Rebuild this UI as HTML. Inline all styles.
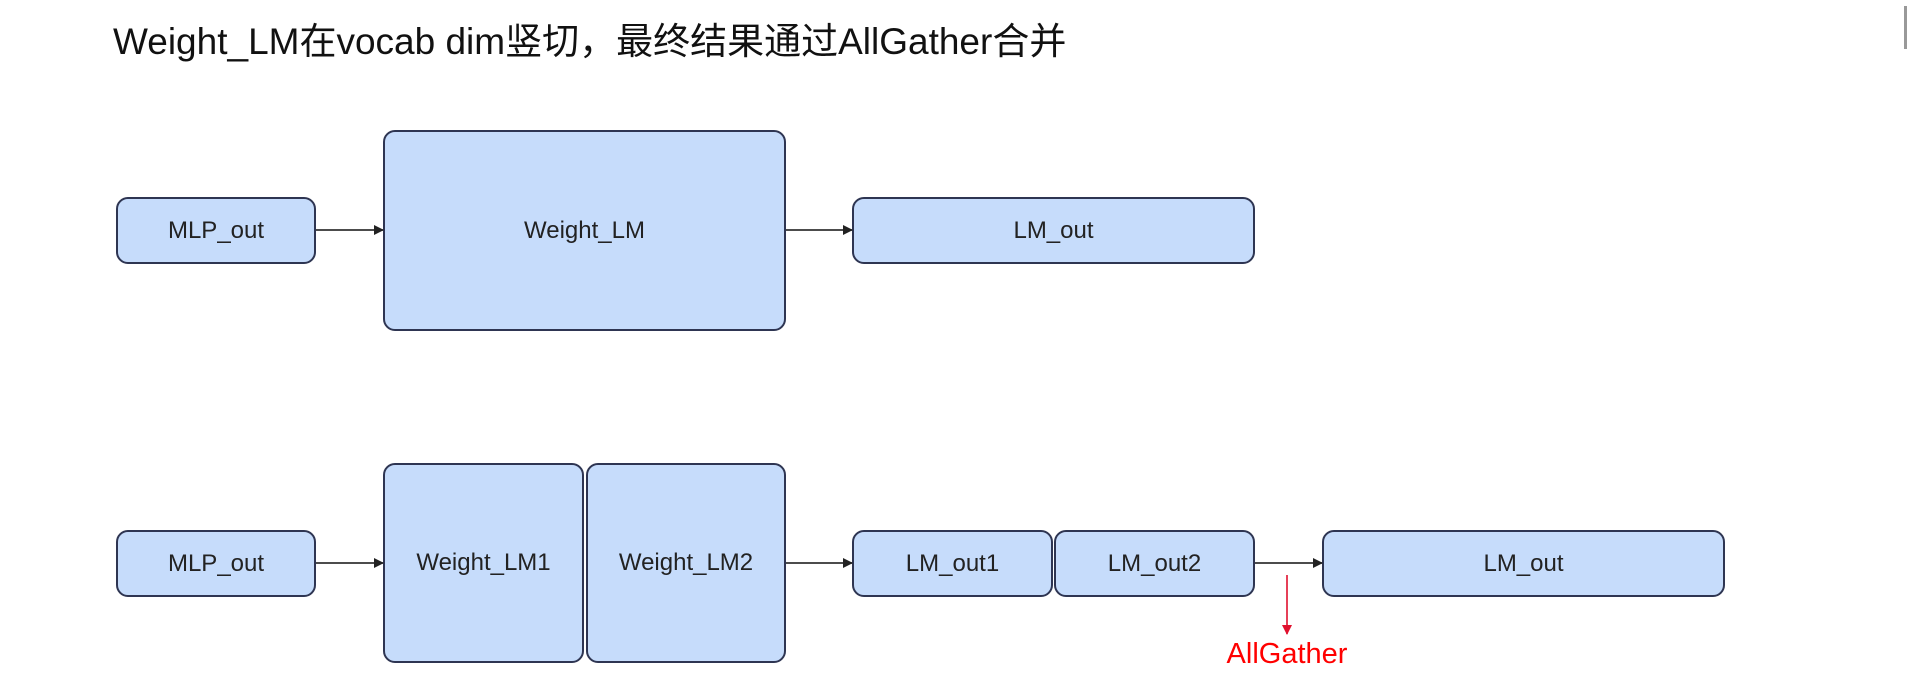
<!DOCTYPE html>
<html><head><meta charset="utf-8"><style>
body{margin:0;width:1909px;height:682px;background:#fff;overflow:hidden;position:relative;font-family:"Liberation Sans","Noto Sans CJK SC",sans-serif}
.t{position:absolute;left:113px;top:11px;font-size:37px;color:#111;white-space:nowrap;font-family:"Liberation Sans","Noto Sans CJK SC",sans-serif}
.b{position:absolute;box-sizing:border-box;background:#c6dcfb;border:2px solid #2e3552;border-radius:12px;display:flex;align-items:center;justify-content:center;font-size:24px;color:#222}
</style></head><body>
<div class="t">Weight_LM在vocab dim竖切，最终结果通过AllGather合并</div>
<div style="position:absolute;left:1904px;top:6px;width:3px;height:43px;background:#999"></div>
<div class="b" style="left:116px;top:197px;width:200px;height:67px">MLP_out</div>
<div class="b" style="left:383px;top:130px;width:403px;height:201px">Weight_LM</div>
<div class="b" style="left:852px;top:197px;width:403px;height:67px">LM_out</div>
<div class="b" style="left:116px;top:530px;width:200px;height:67px">MLP_out</div>
<div class="b" style="left:383px;top:463px;width:201px;height:200px">Weight_LM1</div>
<div class="b" style="left:586px;top:463px;width:200px;height:200px">Weight_LM2</div>
<div class="b" style="left:852px;top:530px;width:201px;height:67px">LM_out1</div>
<div class="b" style="left:1054px;top:530px;width:201px;height:67px">LM_out2</div>
<div class="b" style="left:1322px;top:530px;width:403px;height:67px">LM_out</div>
<svg style="position:absolute;left:0;top:0" width="1909" height="682">
<defs><marker id="a" markerWidth="10" markerHeight="10" refX="9" refY="5" orient="auto" markerUnits="userSpaceOnUse"><path d="M0,0 L10,5 L0,10z" fill="#222"/></marker>
<marker id="r" markerWidth="10" markerHeight="10" refX="9" refY="5" orient="auto" markerUnits="userSpaceOnUse"><path d="M0,0 L10,5 L0,10z" fill="#e0102e"/></marker></defs>
<g stroke="#333" stroke-width="1.8">
<line x1="316" y1="230" x2="383" y2="230" marker-end="url(#a)"/>
<line x1="786" y1="230" x2="852" y2="230" marker-end="url(#a)"/>
<line x1="316" y1="563" x2="383" y2="563" marker-end="url(#a)"/>
<line x1="786" y1="563" x2="852" y2="563" marker-end="url(#a)"/>
<line x1="1255" y1="563" x2="1322" y2="563" marker-end="url(#a)"/>
</g>
<line x1="1287" y1="575" x2="1287" y2="634" stroke="#e0102e" stroke-width="1.6" marker-end="url(#r)"/>
<text x="1287" y="663" text-anchor="middle" font-size="29" fill="#f00" font-family="Liberation Sans, sans-serif">AllGather</text>
</svg>
</body></html>
